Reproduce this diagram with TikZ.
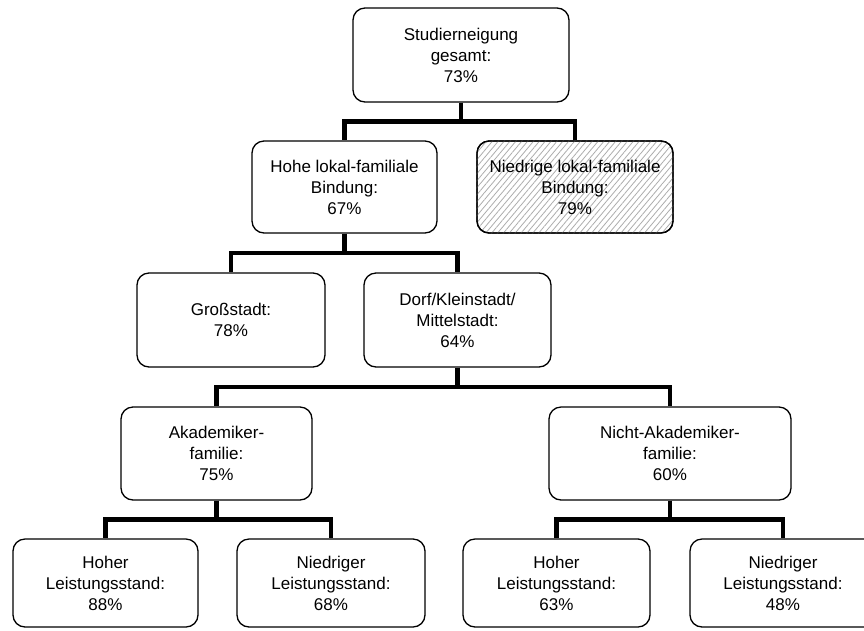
\documentclass[tikz,border=0pt]{standalone}
\usepackage{fontspec}
\setmainfont{Liberation Sans}
\usetikzlibrary{calc,patterns.meta}

\tikzset{
  box/.style={draw=black, line width=1.3pt, rounded corners=12pt, fill=white,
    align=center, inner sep=0pt, font=\fontsize{17}{21}\selectfont},
  shaded/.style={pattern={Lines[angle=50,distance=4.5pt,line width=0.8pt]},
    pattern color=black!32},
  bus/.style={line width=4.5pt, line join=miter, line cap=butt},
  tree/.style={to path={|- ($(\tikztostart)!0.5!(\tikztotarget)$) -| (\tikztotarget)}}
}

\begin{document}
\begin{tikzpicture}[x=1pt, y=-1pt]
  \useasboundingbox (0,0) rectangle (864,630);
  \clip (0,0) rectangle (864,630);

  % level 0
  \node[box, minimum width=216pt, minimum height=94pt] (top) at (461,55)
    {Studierneigung\\gesamt:\\73\%};

  % level 1
  \node[box, minimum width=185pt, minimum height=92pt] (hohe) at (344.5,187)
    {Hohe lokal-familiale\\Bindung:\\67\%};
  \node[box, minimum width=196pt, minimum height=92pt] (niedrig) at (575,187) {};
  \path[shaded, rounded corners=12pt] (niedrig.south west) rectangle (niedrig.north east);
  \node[box, fill=none, minimum width=196pt, minimum height=92pt] (niedrigtext) at (575,187)
    {Niedrige lokal-familiale\\Bindung:\\79\%};

  % level 2
  \node[box, minimum width=188pt, minimum height=94pt] (gross) at (231,320)
    {Großstadt:\\78\%};
  \node[box, minimum width=187pt, minimum height=94pt] (dorf) at (457.5,320)
    {Dorf/Kleinstadt/\\Mittelstadt:\\64\%};

  % level 3
  \node[box, minimum width=191pt, minimum height=93pt] (akad) at (216.5,453.5)
    {Akademiker-\\familie:\\75\%};
  \node[box, minimum width=242pt, minimum height=93pt] (nicht) at (670,453.5)
    {Nicht-Akademiker-\\familie:\\60\%};

  % level 4
  \node[box, minimum width=185pt, minimum height=88pt] (ah) at (105.5,583)
    {Hoher\\Leistungsstand:\\88\%};
  \node[box, minimum width=188pt, minimum height=88pt] (an) at (331,583)
    {Niedriger\\Leistungsstand:\\68\%};
  \node[box, minimum width=187pt, minimum height=88pt] (nh) at (556.5,583)
    {Hoher\\Leistungsstand:\\63\%};
  \node[box, minimum width=186pt, minimum height=88pt] (nn) at (783,583)
    {Niedriger\\Leistungsstand:\\48\%};

  % connectors
  \draw[bus] (top.south) edge[tree] (hohe.north) edge[tree] (niedrig.north);
  \draw[bus] (hohe.south) edge[tree] (gross.north) edge[tree] (dorf.north);
  \draw[bus] (dorf.south) edge[tree] (akad.north) edge[tree] (nicht.north);
  \draw[bus] (akad.south) edge[tree] (ah.north) edge[tree] (an.north);
  \draw[bus] (nicht.south) edge[tree] (nh.north) edge[tree] (nn.north);
\end{tikzpicture}
\end{document}
